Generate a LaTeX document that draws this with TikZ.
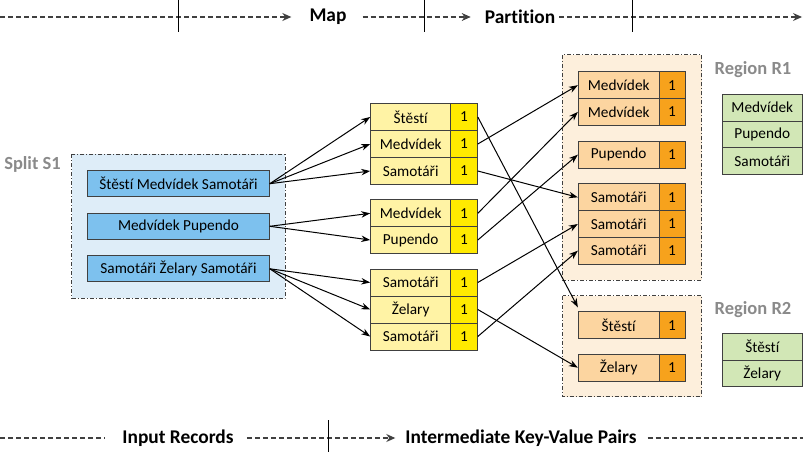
\documentclass[tikz,border=0pt]{standalone}
\usepackage{fontspec}
\setmainfont{Carlito}[Ligatures=NoCommon]
\usetikzlibrary{arrows.meta}
\definecolor{boxline}{HTML}{404040}
\definecolor{splitfill}{HTML}{DEEDF8}
\definecolor{bluebox}{HTML}{7DC1EE}
\definecolor{ylight}{HTML}{FFF3A5}
\definecolor{ydark}{HTML}{FFEA00}
\definecolor{olight}{HTML}{FCD5A0}
\definecolor{odark}{HTML}{F7A21C}
\definecolor{regfill}{HTML}{FDEFDC}
\definecolor{gfill}{HTML}{D2E7B6}
\definecolor{labgray}{HTML}{8A8A8A}
\definecolor{dline}{HTML}{404040}
\tikzset{
  cell/.style={draw=boxline, line width=1pt, inner sep=0pt, font=\fontsize{15.3}{18}\selectfont, text=black},
  ykey/.style={cell, fill=ylight, minimum width=80pt, minimum height=27pt},
  yval/.style={cell, fill=ydark, minimum width=26.6pt, minimum height=27pt},
  okey/.style={cell, fill=olight, minimum width=80.7pt, minimum height=26.7pt},
  oval/.style={cell, fill=odark, minimum width=26pt, minimum height=26.7pt},
  gbox/.style={cell, fill=gfill, minimum width=80pt, minimum height=26.7pt},
  bbox/.style={cell, fill=bluebox, minimum width=181.6pt, minimum height=26pt},
  grp/.style={draw=boxline, line width=1pt, dash pattern=on 4pt off 2pt on 1pt off 2pt},
  glabel/.style={font=\bfseries\fontsize{18.5}{22}\selectfont, text=labgray, inner sep=0pt},
  blabel/.style={font=\bfseries\fontsize{19.4}{23}\selectfont, text=black, inner sep=0pt},
  arr/.style={line width=1pt, -{Stealth[length=9pt,width=6.5pt]}},
  dl/.style={draw=dline, line width=1.1pt, dash pattern=on 5pt off 3pt},
  dla/.style={dl, -{Stealth[length=9pt,width=8pt]}},
  tick/.style={draw=black, line width=0.7pt},
}
\begin{document}
\begin{tikzpicture}[x=1pt,y=-1pt]
\useasboundingbox (0,0) rectangle (803,452);

% group frames
\draw[grp, fill=splitfill] (71.7,154.3) rectangle (285,298.3);
\draw[grp, fill=regfill] (562.3,55) rectangle (701.7,280);
\draw[grp, fill=regfill] (562.5,295.7) rectangle (701.5,396.7);

% labels
\node[glabel] (splitlab) at (32.5,164) {Split S1};
\node[glabel] (r1lab) at (753,70) {Region R1};
\node[glabel] (r2lab) at (753,310) {Region R2};

% input records
\node[bbox] (b1) at (178.5,183.7) {Štěstí Medvídek Samotáři};
\node[bbox] (b2) at (178.5,226.3) {Medvídek Pupendo};
\node[bbox] (b3) at (178.5,268.8) {Samotáři Želary Samotáři};

% map output
\node[ykey] (y1) at (410.7,117) {Štěstí};
\node[yval] (v1) at (464,117) {1};
\node[ykey] (y2) at (410.7,144) {Medvídek};
\node[yval] (v2) at (464,144) {1};
\node[ykey] (y3) at (410.7,171) {Samotáři};
\node[yval] (v3) at (464,171) {1};
\node[ykey] (y4) at (410.7,213.3) {Medvídek};
\node[yval] (v4) at (464,213.3) {1};
\node[ykey] (y5) at (410.7,240) {Pupendo};
\node[yval] (v5) at (464,240) {1};
\node[ykey] (y6) at (410.7,282.5) {Samotáři};
\node[yval] (v6) at (464,282.5) {1};
\node[ykey] (y7) at (410.7,309.5) {Želary};
\node[yval] (v7) at (464,309.5) {1};
\node[ykey] (y8) at (410.7,336.5) {Samotáři};
\node[yval] (v8) at (464,336.5) {1};

% partitioned
\node[okey] (o1) at (618.7,85.2) {Medvídek};
\node[oval] (w1) at (672,85.2) {1};
\node[okey] (o2) at (618.7,111.9) {Medvídek};
\node[oval] (w2) at (672,111.9) {1};
\node[okey] (o3) at (618.7,154.7) {Pupendo};
\node[oval] (w3) at (672,154.7) {1};
\node[okey] (o4) at (618.7,197.3) {Samotáři};
\node[oval] (w4) at (672,197.3) {1};
\node[okey] (o5) at (618.7,224) {Samotáři};
\node[oval] (w5) at (672,224) {1};
\node[okey] (o6) at (618.7,250.7) {Samotáři};
\node[oval] (w6) at (672,250.7) {1};
\node[okey] (o7) at (618.7,325.2) {Štěstí};
\node[oval] (w7) at (672,325.2) {1};
\node[okey] (o8) at (618.7,367.7) {Želary};
\node[oval] (w8) at (672,367.7) {1};

% reduce keys
\node[gbox] (g1) at (762.3,107.7) {Medvídek};
\node[gbox] (g2) at (762.3,134.4) {Pupendo};
\node[gbox] (g3) at (762.3,161.1) {Samotáři};
\node[gbox] (g4) at (762.3,346.7) {Štěstí};
\node[gbox] (g5) at (762.3,373.4) {Želary};

% map arrows
\draw[arr] (b1.east) -- (y1.west);
\draw[arr] (b1.east) -- (y2.west);
\draw[arr] (b1.east) -- (y3.west);
\draw[arr] (b2.east) -- (y4.west);
\draw[arr] (b2.east) -- (y5.west);
\draw[arr] (b3.east) -- (y6.west);
\draw[arr] (b3.east) -- (y7.west);
\draw[arr] (b3.east) -- (y8.west);

% partition arrows
\draw[arr] (v1.east) -- ([yshift=4pt]o7.north west);
\draw[arr] (v2.east) -- (o1.west);
\draw[arr] (v3.east) -- (o4.west);
\draw[arr] (v4.east) -- (o2.west);
\draw[arr] (v5.east) -- (o3.west);
\draw[arr] (v6.east) -- (o5.west);
\draw[arr] (v7.east) -- (o8.west);
\draw[arr] (v8.east) -- (o6.west);

% top bar
\node[blabel] (map) at (328,17) {Map};
\node[blabel] (part) at (520,17) {Partition};
\coordinate (t0) at (0,17);
\coordinate (t1) at (802,17);
\draw[dla] (t0) -- ([xshift=-18pt]map.west);
\draw[dla] ([xshift=16pt]map.east) -- ([xshift=-14pt]part.west);
\draw[dla] ([xshift=4pt]part.east) -- (t1);
\coordinate (k1a) at (178,0); \coordinate (k1b) at (178,32);
\coordinate (k2a) at (424,0); \coordinate (k2b) at (424,32);
\coordinate (k3a) at (632,0); \coordinate (k3b) at (632,32);
\draw[tick] (k1a) -- (k1b);
\draw[tick] (k2a) -- (k2b);
\draw[tick] (k3a) -- (k3b);

% bottom bar
\node[blabel] (inrec) at (178,438) {Input Records};
\node[blabel] (ikv) at (521,438) {Intermediate Key-Value Pairs};
\coordinate (u0) at (0,438);
\coordinate (u1) at (803,438);
\draw[dl] (u0) -- ([xshift=-17pt]inrec.west);
\draw[dla] ([xshift=13pt]inrec.east) -- ([xshift=-10pt]ikv.west);
\draw[dl] ([xshift=11pt]ikv.east) -- (u1);
\coordinate (k4a) at (328,420); \coordinate (k4b) at (328,452);
\draw[tick] (k4a) -- (k4b);
\end{tikzpicture}
\end{document}
